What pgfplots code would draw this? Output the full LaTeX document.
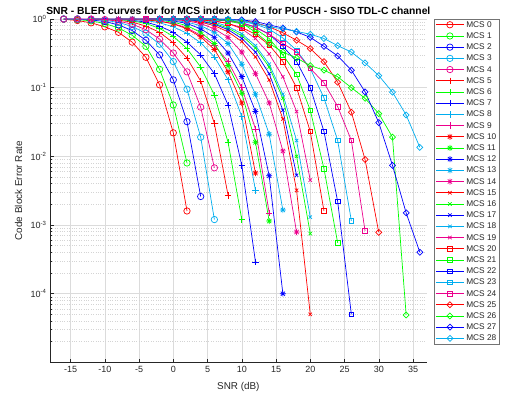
\documentclass[border=0pt]{standalone}
\usepackage{fontspec}
\setmainfont{Liberation Sans}
\usepackage{pgfplots}
\pgfplotsset{compat=1.18}
\pgfdeclareplotmark{mstar}{%
  \pgfpathmoveto{\pgfqpoint{-\pgfplotmarksize}{0pt}}\pgfpathlineto{\pgfqpoint{\pgfplotmarksize}{0pt}}%
  \pgfpathmoveto{\pgfqpoint{0pt}{-\pgfplotmarksize}}\pgfpathlineto{\pgfqpoint{0pt}{\pgfplotmarksize}}%
  \pgfpathmoveto{\pgfqpoint{-.707\pgfplotmarksize}{-.707\pgfplotmarksize}}\pgfpathlineto{\pgfqpoint{.707\pgfplotmarksize}{.707\pgfplotmarksize}}%
  \pgfpathmoveto{\pgfqpoint{-.707\pgfplotmarksize}{.707\pgfplotmarksize}}\pgfpathlineto{\pgfqpoint{.707\pgfplotmarksize}{-.707\pgfplotmarksize}}%
  \pgfusepathqstroke}
\pgfdeclareplotmark{mdiam}{%
  \pgfpathmoveto{\pgfqpoint{0pt}{\pgfplotmarksize}}\pgfpathlineto{\pgfqpoint{\pgfplotmarksize}{0pt}}%
  \pgfpathlineto{\pgfqpoint{0pt}{-\pgfplotmarksize}}\pgfpathlineto{\pgfqpoint{-\pgfplotmarksize}{0pt}}%
  \pgfpathclose\pgfusepathqstroke}
\pgfplotsset{
  mo/.style={line width=0.7pt, mark=o, mark size=3.2pt, mark options={solid}},
  mp/.style={line width=0.7pt, mark=+, mark size=3.2pt, mark options={solid}},
  ms/.style={line width=0.7pt, mark=mstar, mark size=3pt, mark options={solid}},
  mx/.style={line width=0.7pt, mark=x, mark size=2.4pt, mark options={solid}},
  mq/.style={line width=0.7pt, mark=square, mark size=2.3pt, mark options={solid}},
  md/.style={line width=0.7pt, mark=mdiam, mark size=3pt, mark options={solid}},
}
\begin{document}
\begin{tikzpicture}
\useasboundingbox (0,0) rectangle (505pt,392pt);
\begin{axis}[
  at={(50pt,29.7pt)}, anchor=south west,
  width=376.7pt, height=343.3pt, scale only axis,
  ymode=log, xmin=-18, xmax=37, ymin=1e-5, ymax=1,
  clip=false,
  axis x line*=bottom, axis y line*=left,
  axis line style={-, black!85, line width=0.5pt},
  every inner x axis line/.append style={-}, every inner y axis line/.append style={-},
  every outer x axis line/.append style={-}, every outer y axis line/.append style={-},
  tick style={black!85, line width=0.5pt},
  major tick length=3.8pt, minor tick length=2pt,
  xtick={-15,-10,-5,0,5,10,15,20,25,30,35},
  xticklabels={-15,-10,-5,0,5,10,15,20,25,30,35},
  ytick={1e-5,1e-4,1e-3,1e-2,1e-1,1},
  yticklabels={{},10\textsuperscript{-4},10\textsuperscript{-3},10\textsuperscript{-2},10\textsuperscript{-1},10\textsuperscript{0}},
  ticklabel style={font=\fontsize{9}{10}\selectfont, text=black!85},
  grid=both,
  major grid style={black!14, line width=0.5pt},
  minor grid style={black!17, dotted, line width=0.5pt},
  every axis title/.style={at={(axis description cs:0.5,1)}, anchor=south, yshift=0.5pt,
     font=\bfseries\fontsize{10.3}{12}\selectfont},
  title={SNR - BLER curves for for MCS index table 1 for PUSCH - SISO TDL-C channel},
  every axis x label/.style={at={(axis description cs:0.5,-0.0711)}, anchor=center,
     font=\fontsize{9.9}{11}\selectfont, text=black!85},
  every axis y label/.style={at={(axis description cs:-0.0836,0.5)}, rotate=90, anchor=center,
     font=\fontsize{9.9}{11}\selectfont, text=black!85},
  xlabel={SNR (dB)},
  ylabel={Code Block Error Rate},
  legend style={at={(axis description cs:1.0202,1)}, anchor=north west,
     draw=black!55, line width=0.5pt, fill=white,
     font=\fontsize{8.3}{10}\selectfont, inner xsep=1pt, inner ysep=1pt,
     row sep=2.2pt,
     nodes={inner xsep=2pt, inner ysep=0pt, text height=7pt, text depth=2pt, text=black!85}},
  legend cell align=left,
  legend image code/.code={\draw[mark repeat=2,mark phase=2] plot coordinates {(0pt,0pt) (14pt,0pt) (28pt,0pt)};},
]
% MCS 0-4 (circles)
\addplot[red,mo] coordinates {(-16,0.99)(-14,0.95)(-12,0.88)(-10,0.77)(-8,0.64)(-6,0.46)(-4,0.277)(-2,0.11)(0,0.022)(2,0.0016)};
\addplot[green,mo] coordinates {(-16,1)(-14,0.98)(-12,0.94)(-10,0.86)(-8,0.74)(-6,0.58)(-4,0.40)(-2,0.185)(0,0.056)(2,0.008)};
\addplot[blue,mo] coordinates {(-16,1)(-14,1)(-12,0.97)(-10,0.92)(-8,0.82)(-6,0.68)(-4,0.49)(-2,0.30)(0,0.13)(2,0.032)(4,0.0026)};
\addplot[cyan,mo] coordinates {(-16,1)(-14,1)(-12,0.99)(-10,0.96)(-8,0.89)(-6,0.78)(-4,0.62)(-2,0.43)(0,0.24)(2,0.095)(4,0.019)(6,0.0012)};
\addplot[magenta,mo] coordinates {(-16,1)(-14,1)(-12,1)(-10,0.98)(-8,0.93)(-6,0.84)(-4,0.70)(-2,0.51)(0,0.32)(2,0.17)(4,0.052)(6,0.0068)};
% MCS 5-9 (plus)
\addplot[red,mp] coordinates {(-12,1)(-10,0.99)(-8,0.96)(-6,0.9)(-4,0.79)(-2,0.64)(0,0.45)(2,0.27)(4,0.125)(6,0.03)(8,0.0027)};
\addplot[green,mp] coordinates {(-12,1)(-10,1)(-8,0.98)(-6,0.94)(-4,0.86)(-2,0.73)(0,0.56)(2,0.37)(4,0.2)(6,0.078)(8,0.016)(10,0.0012)};
\addplot[blue,mp] coordinates {(-12,1)(-10,1)(-8,0.99)(-6,0.96)(-4,0.9)(-2,0.79)(0,0.64)(2,0.46)(4,0.3)(6,0.16)(8,0.056)(10,0.0074)(12,0.00029)};
\addplot[cyan,mp] coordinates {(-12,1)(-10,1)(-8,1)(-6,0.98)(-4,0.95)(-2,0.88)(0,0.77)(2,0.62)(4,0.45)(6,0.28)(8,0.13)(10,0.038)(12,0.0032)};
\addplot[magenta,mp] coordinates {(-12,1)(-10,1)(-8,1)(-6,0.99)(-4,0.97)(-2,0.93)(0,0.86)(2,0.74)(4,0.58)(6,0.41)(8,0.24)(10,0.1)(12,0.025)(14,0.0015)};
% MCS 10-14 (asterisk)
\addplot[red,ms] coordinates {(-8,1)(-6,0.99)(-4,0.97)(-2,0.93)(0,0.85)(2,0.72)(4,0.55)(6,0.36)(8,0.17)(10,0.06)(12,0.0057)};
\addplot[green,ms] coordinates {(-8,1)(-6,1)(-4,0.99)(-2,0.96)(0,0.9)(2,0.8)(4,0.64)(6,0.44)(8,0.21)(10,0.083)(12,0.016)(14,0.00114)};
\addplot[blue,ms] coordinates {(-8,1)(-6,1)(-4,1)(-2,0.98)(0,0.94)(2,0.86)(4,0.72)(6,0.54)(8,0.32)(10,0.145)(12,0.045)(14,0.0052)(16,0.0001)};
\addplot[cyan,ms] coordinates {(-8,1)(-6,1)(-4,1)(-2,0.99)(0,0.96)(2,0.9)(4,0.8)(6,0.64)(8,0.44)(10,0.22)(12,0.08)(14,0.021)(16,0.00165)};
\addplot[magenta,ms] coordinates {(-8,1)(-6,1)(-4,1)(-2,1)(0,0.98)(2,0.94)(4,0.86)(6,0.72)(8,0.54)(10,0.33)(12,0.16)(14,0.06)(16,0.012)(18,0.00079)};
% MCS 15-19 (x)
\addplot[red,mx] coordinates {(-4,1)(-2,1)(0,0.99)(2,0.96)(4,0.9)(6,0.8)(8,0.65)(10,0.47)(12,0.28)(14,0.13)(16,0.035)(18,0.0032)(20,0.00005)};
\addplot[green,mx] coordinates {(-4,1)(-2,1)(0,1)(2,0.98)(4,0.94)(6,0.86)(8,0.74)(10,0.57)(12,0.38)(14,0.2)(16,0.07)(18,0.01)(20,0.00075)};
\addplot[blue,mx] coordinates {(-4,1)(-2,1)(0,1)(2,0.98)(4,0.93)(6,0.84)(8,0.7)(10,0.52)(12,0.33)(14,0.16)(16,0.047)(18,0.0053)};
\addplot[cyan,mx] coordinates {(-4,1)(-2,1)(0,1)(2,0.99)(4,0.96)(6,0.9)(8,0.78)(10,0.61)(12,0.41)(14,0.22)(16,0.08)(18,0.017)(20,0.0013)};
\addplot[magenta,mx] coordinates {(-4,1)(-2,1)(0,1)(2,1)(4,0.98)(6,0.94)(8,0.86)(10,0.72)(12,0.52)(14,0.31)(16,0.144)(18,0.045)(20,0.0045)};
% MCS 20-24 (squares)
\addplot[red,mq] coordinates {(-4,1)(-2,1)(0,1)(2,0.99)(4,0.97)(6,0.93)(8,0.86)(10,0.75)(12,0.6)(14,0.42)(16,0.24)(18,0.1)(20,0.023)(22,0.0016)};
\addplot[green,mq] coordinates {(-4,1)(-2,1)(0,1)(2,1)(4,0.99)(6,0.97)(8,0.93)(10,0.85)(12,0.72)(14,0.52)(16,0.3)(18,0.156)(20,0.047)(22,0.0066)(24,0.00055)};
\addplot[blue,mq] coordinates {(-4,1)(-2,1)(0,1)(2,1)(4,1)(6,0.98)(8,0.95)(10,0.88)(12,0.76)(14,0.6)(16,0.4)(18,0.24)(20,0.1)(22,0.023)(24,0.0022)(26,0.00005)};
\addplot[cyan,mq] coordinates {(-4,1)(-2,1)(0,1)(2,1)(4,1)(6,0.99)(8,0.97)(10,0.92)(12,0.84)(14,0.71)(16,0.53)(18,0.35)(20,0.19)(22,0.071)(24,0.017)(26,0.00115)};
\addplot[magenta,mq] coordinates {(-4,1)(-2,1)(0,1)(2,1)(4,1)(6,1)(8,0.95)(10,0.88)(12,0.76)(14,0.6)(16,0.44)(18,0.33)(20,0.19)(22,0.118)(24,0.053)(26,0.017)(28,0.00082)};
% MCS 25-28 (diamonds)
\addplot[red,md] coordinates {(-2,1)(0,1)(2,1)(4,1)(6,1)(8,0.99)(10,0.96)(12,0.88)(14,0.77)(16,0.63)(18,0.49)(20,0.37)(22,0.24)(24,0.12)(26,0.044)(28,0.009)(30,0.00078)};
\addplot[green,md] coordinates {(-2,1)(0,1)(2,1)(4,1)(6,0.99)(8,0.96)(10,0.88)(12,0.64)(14,0.44)(16,0.33)(18,0.27)(20,0.21)(22,0.18)(24,0.144)(26,0.10)(28,0.07)(30,0.042)(32,0.019)(34,0.000049)};
\addplot[blue,md] coordinates {(-2,1)(0,1)(2,1)(4,1)(6,1)(8,0.99)(10,0.97)(12,0.92)(14,0.82)(16,0.74)(18,0.65)(20,0.54)(22,0.4)(24,0.29)(26,0.18)(28,0.087)(30,0.031)(32,0.0074)(34,0.0015)(36,0.0004)};
\addplot[cyan,md] coordinates {(-2,1)(0,1)(2,1)(4,1)(6,1)(8,0.99)(10,0.95)(12,0.86)(14,0.77)(16,0.72)(18,0.66)(20,0.6)(22,0.52)(24,0.41)(26,0.33)(28,0.23)(30,0.15)(32,0.086)(34,0.04)(36,0.0135)};
\legend{MCS 0,MCS 1,MCS 2,MCS 3,MCS 4,MCS 5,MCS 6,MCS 7,MCS 8,MCS 9,MCS 10,MCS 11,MCS 12,MCS 13,MCS 14,MCS 15,MCS 16,MCS 17,MCS 18,MCS 19,MCS 20,MCS 21,MCS 22,MCS 23,MCS 24,MCS 25,MCS 26,MCS 27,MCS 28}
\end{axis}
\end{tikzpicture}
\end{document}
